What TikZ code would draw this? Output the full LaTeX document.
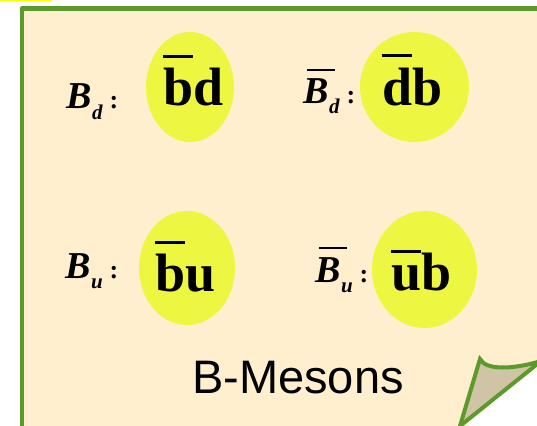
\documentclass[tikz,border=0pt]{standalone}
\usepackage{fontspec}
\setmainfont{Liberation Serif}
\newfontfamily\arialf{Liberation Sans}
\definecolor{pagecream}{HTML}{FFEFCE}
\definecolor{framegreen}{HTML}{5C9A2C}
\definecolor{foldtan}{HTML}{D0C4A6}
\definecolor{quarkyellow}{HTML}{EDF742}
\definecolor{topyellow}{HTML}{FFFF00}
\newcommand\ovr[3]{\setbox0\hbox{#3}\rlap{\raise#1\hbox{\vrule width\wd0 height #2 depth 0pt}}\box0}
\newcommand\qfont{\fontsize{54}{54}\selectfont\bfseries}
\newcommand\mylab[3]{% #1 overline? (1/0) #2 subscript #3 raise of overline
  \setbox2\hbox{\fontsize{38}{38}\selectfont\bfseries\itshape B}%
  \ifnum#1=1\rlap{\kern4pt\raise#3\hbox{\vrule width 28pt height 2pt depth 0pt}}\fi
  \box2\kern0.5pt\raisebox{-10pt}{\fontsize{21}{21}\selectfont\bfseries\itshape #2}\kern7pt{\fontsize{26}{26}\selectfont\bfseries :}}
\begin{document}
\begin{tikzpicture}[x=1pt,y=-1pt,
  quark/.style={fill=quarkyellow,draw=none},
  qtext/.style={anchor=base west,inner sep=0pt,font=\qfont},
  ltext/.style={anchor=base west,inner sep=0pt}]
\useasboundingbox (0,0) rectangle (537,425);
% top yellow strip
\fill[topyellow] (0,0) rectangle (52,1.4);
% page
\fill[pagecream] (22,8.5) -- (570,8.5) -- (570,339) -- (436,445) -- (22,445) -- cycle;
\draw[framegreen,line width=4.6pt,line join=round] (22,445) -- (22,8.5) -- (570,8.5);
% folded corner
\draw[framegreen,fill=foldtan,line width=4pt,line join=miter]
  (480,359) .. controls (486,371) and (515,369) .. (541,361) -- (460,426) -- cycle;
% quark ellipses
\fill[quark] (190,87) ellipse [x radius=44, y radius=55];
\fill[quark] (414.5,87) ellipse [x radius=54.5, y radius=55];
\fill[quark] (187,268) ellipse [x radius=48, y radius=57];
\fill[quark] (424.5,269.5) ellipse [x radius=52.5, y radius=58.5];
% quark contents
\node[qtext] (qbd) at (163,105) {\ovr{46.5pt}{3pt}{b}d};
\node[qtext] (qdb) at (382,105) {\ovr{47.5pt}{3pt}{d}b};
\node[qtext] (qbu) at (155,291) {\ovr{47.5pt}{3pt}{b}u};
\node[qtext] (qub) at (391,290) {\ovr{37.5pt}{3pt}{u}b};
% labels
\node[ltext] (lbd) at (66,109) {\mylab{0}{d}{0pt}};
\node[ltext] (lbbd) at (303,103) {\mylab{1}{d}{32pt}};
\node[ltext] (lbu) at (65,278) {\mylab{0}{u}{0pt}};
\node[ltext] (lbbu) at (315,282) {\mylab{1}{u}{33pt}};
% title
\node[anchor=base west,inner sep=0pt,font=\arialf\fontsize{47}{47}\selectfont] (title) at (192,393) {B-Mesons};
\end{tikzpicture}
\end{document}
